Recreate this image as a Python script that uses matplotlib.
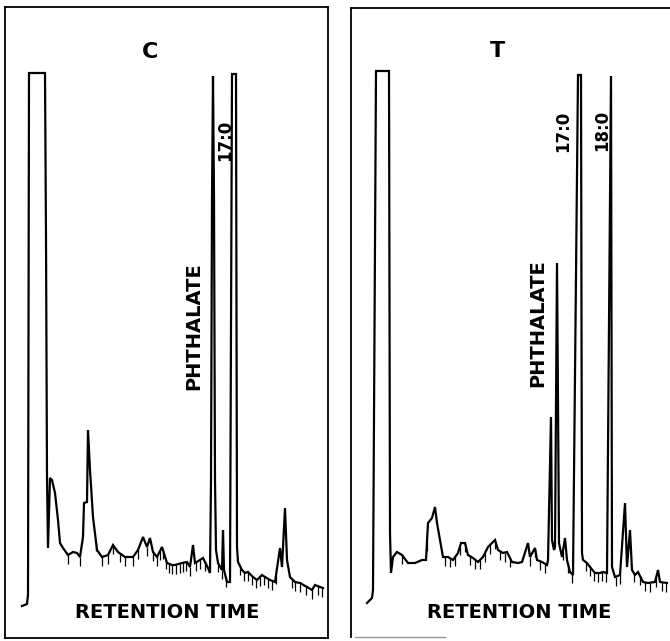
import numpy as np
import matplotlib
matplotlib.use("Agg")
import matplotlib.pyplot as plt

# ---- chromatogram C (retention units, detector response units) ----
c_time = [17, 22, 23, 24, 40, 41, 42, 43, 45, 47, 50, 53, 55, 58, 63, 68, 72, 75,
          78, 79, 82, 83, 85, 88, 92, 97, 103, 108, 113, 120, 128, 133, 138, 142,
          145, 148, 152, 157, 162, 167, 170, 177, 182, 185, 188, 190, 195, 198,
          203, 205, 206, 207, 208, 209, 210, 211, 213, 217, 218, 219, 222, 225,
          227, 231, 232, 233, 237, 240, 243, 248, 252, 257, 260, 265, 270, 275,
          277, 280, 282, 285, 290, 295, 302, 307, 310, 315, 318]
c_resp = [32, 34, 43, 565, 565, 400, 161, 90, 160, 158, 145, 118, 95, 90, 83, 86, 85, 81,
          101, 135, 136, 208, 168, 121, 88, 81, 83, 93, 86, 81, 81, 88, 101, 91,
          100, 86, 81, 91, 75, 73, 73, 75, 76, 71, 93, 75, 78, 80,
          70, 65, 158, 438, 562, 438, 158, 88, 75, 68, 108, 68, 56, 56,
          564, 564, 91, 76, 68, 65, 66, 61, 58, 63, 61, 58, 56, 90,
          71, 130, 78, 61, 56, 55, 51, 48, 53, 51, 50]
c_ticks = [63, 75, 91, 97, 103, 108, 115, 120, 128, 133, 142, 148, 152, 155, 158,
           161, 164, 167, 171, 175, 178, 181, 185, 191, 195, 200, 213, 217, 221,
           235, 239, 243, 247, 251, 255, 259, 263, 267, 271, 287, 290, 295, 301,
           307, 313, 317]

# ---- chromatogram T ----
t_time = [16, 21, 22, 25, 38, 39, 40, 42, 46, 51, 57, 64, 71, 75, 77, 81, 84, 86,
          89, 92, 97, 102, 107, 110, 114, 117, 122, 127, 132, 137, 141, 144, 147,
          152, 156, 161, 167, 171, 177, 179, 184, 186, 191, 196, 197, 200, 201,
          203, 204, 206, 208, 211, 214, 216, 219, 222, 227, 230, 231, 232, 236,
          239, 244, 249, 252, 256, 260, 261, 264, 269, 274, 276, 279, 281, 284,
          287, 292, 297, 304, 307, 309, 316]
t_resp = [34, 39, 47, 566, 566, 104, 64, 80, 85, 82, 74, 74, 77, 77, 114, 119, 130, 114,
          97, 80, 80, 77, 84, 94, 94, 82, 79, 75, 80, 90, 94, 97, 87,
          84, 85, 75, 74, 75, 94, 80, 89, 77, 75, 72, 77, 220, 97,
          87, 90, 374, 94, 80, 99, 77, 65, 62, 562, 562, 84, 77, 74,
          70, 64, 64, 65, 64, 561, 70, 60, 62, 134, 70, 107, 67, 62,
          65, 55, 54, 55, 67, 55, 54]
t_ticks = [51, 76, 94, 99, 104, 109, 114, 119, 124, 129, 134, 139, 144, 149, 154,
           159, 179, 184, 189, 194, 212, 217, 221, 235, 239, 243, 247, 251, 255,
           265, 269, 283, 289, 294, 299, 305, 311, 315]

panels = [
    dict(time=c_time, resp=c_resp, ticks=c_ticks, title="C",
         labels=[("PHTHALATE", 189, 312), ("17:0", 220, 498)]),
    dict(time=t_time, resp=t_resp, ticks=t_ticks, title="T",
         labels=[("PHTHALATE", 187, 314), ("17:0", 212, 506), ("18:0", 251, 507)]),
]

W, H = 670, 641
fig = plt.figure(figsize=(6.7, 6.41), dpi=100)

# frame boxes in pixels: left, top, right, bottom
frames = [(5, 7, 328, 638), (351, 8, 670, 637)]

for i, (p, (l, t, r, b)) in enumerate(zip(panels, frames)):
    ax = fig.add_axes([l / W, (H - b) / H, (r - l) / W, (b - t) / H])
    ax.set_xlim(0, r - l)
    ax.set_ylim(0, b - t)
    ax.set_xticks([])
    ax.set_yticks([])
    for s in ax.spines.values():
        s.set_linewidth(1.3)
        s.set_color("black")
    if i == 1:
        ax.spines["right"].set_visible(False)
        ax.spines["bottom"].set_color("#999999")
        ax.spines["bottom"].set_linewidth(1.0)
        ax.spines["bottom"].set_bounds(4, 94)

    ax.plot(p["time"], p["resp"], color="black", lw=1.6, solid_joinstyle="miter")

    tx = np.array(p["ticks"], dtype=float)
    top = np.interp(tx, p["time"], p["resp"])
    ax.vlines(tx, top - 9, top, color="black", lw=0.9)

    ax.text(145 if i == 0 else 147, 586, p["title"], ha="center", va="center",
            fontsize=16, fontweight="bold")
    for txt, x, y in p["labels"]:
        ax.text(x, y, txt, rotation=90, ha="center", va="center",
                fontsize=14 if txt == "PHTHALATE" else 12, fontweight="bold")
    ax.text(162 if i == 0 else 168, 25, "RETENTION TIME", ha="center", va="center",
            fontsize=14, fontweight="bold")

fig.savefig("out.png", dpi=100)
